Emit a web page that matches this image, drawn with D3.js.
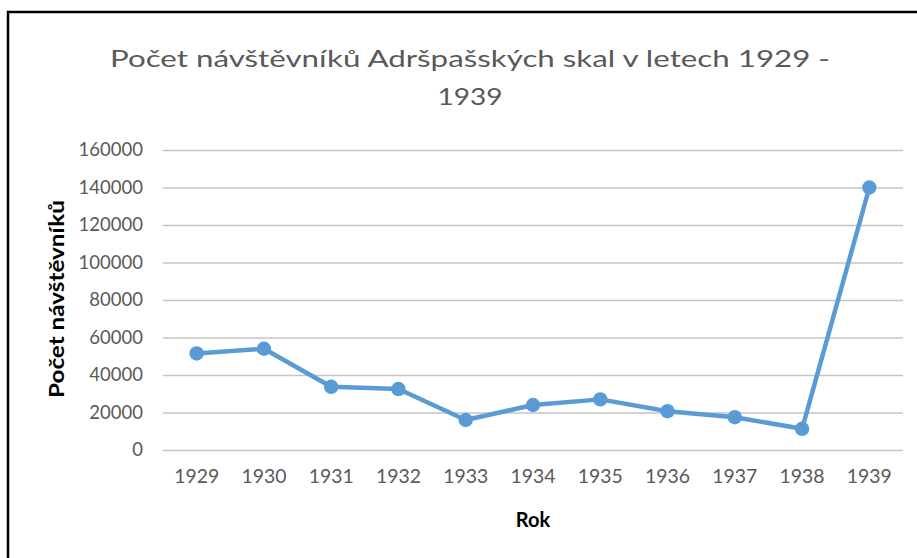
<html>
  <head>
    <meta charset="utf-8">
    <title>Počet návštěvníků Adršpašských skal</title>
    <script type="text/javascript" src="https://cdn.jsdelivr.net/npm/d3@7"></script>
    <style>
      body { margin: 0; background: white; }
      svg { display: block; }
    </style>
  </head>
  <body>
    <script type="text/javascript">
      // Data
      const years = ["1929", "1930", "1931", "1932", "1933", "1934", "1935", "1936", "1937", "1938", "1939"];
      const visitors = [51500, 54000, 33700, 32500, 16000, 24000, 27000, 20700, 17500, 11300, 140000];
      const yTicks = [0, 20000, 40000, 60000, 80000, 100000, 120000, 140000, 160000];

      const w = 917;
      const h = 558;
      const plotLeft = 163, plotRight = 903, plotTop = 150, plotBottom = 450;
      const font = "Lato, 'Open Sans', sans-serif";

      const svg = d3.select("body").append("svg")
        .attr("width", w)
        .attr("height", h);

      // Ramme (kun top og venstre synlig)
      svg.append("path")
        .attr("d", "M8,560 V12 H920")
        .attr("fill", "none")
        .attr("stroke", "black")
        .attr("stroke-width", 2.5);

      // Scales
      const x = d3.scaleBand().domain(years).range([plotLeft, plotRight]);
      const y = d3.scaleLinear().domain([0, 160000]).range([plotBottom, plotTop]);

      // Gridlines + y labels
      const yAxis = d3.axisLeft(y).tickValues(yTicks).tickSize(-(plotRight - plotLeft)).tickPadding(20).tickFormat(d3.format("d"));
      const gy = svg.append("g").attr("transform", "translate(" + plotLeft + ",0)").call(yAxis);
      gy.select(".domain").remove();
      gy.selectAll("line").attr("stroke", "#c4c4c4").attr("stroke-width", 1.3);
      gy.selectAll("text").attr("fill", "#595959").style("font-family", font).style("font-size", "18.5px");

      // x labels
      const xAxis = d3.axisBottom(x).tickSize(0).tickPadding(20);
      const gx = svg.append("g").attr("transform", "translate(0," + plotBottom + ")").call(xAxis);
      gx.select(".domain").remove();
      gx.selectAll("text").attr("fill", "#595959").style("font-family", font).style("font-size", "18.5px")
        .attr("textLength", 45).attr("lengthAdjust", "spacingAndGlyphs");

      // Linje
      const line = d3.line()
        .x((d, i) => x(years[i]) + x.bandwidth() / 2)
        .y(d => y(d));
      svg.append("path")
        .datum(visitors)
        .attr("d", line)
        .attr("fill", "none")
        .attr("stroke", "#5b9bd5")
        .attr("stroke-width", 4.5)
        .attr("stroke-linejoin", "round");

      svg.selectAll("circle")
        .data(visitors)
        .enter()
        .append("circle")
        .attr("cx", (d, i) => x(years[i]) + x.bandwidth() / 2)
        .attr("cy", d => y(d))
        .attr("r", 7.2)
        .attr("fill", "#5b9bd5");

      // Titel
      const title = svg.append("text")
        .attr("text-anchor", "middle")
        .attr("fill", "#595959")
        .style("font-family", font)
        .style("font-size", "23px");
      title.append("tspan").attr("x", 470).attr("y", 67)
        .attr("textLength", 720).attr("lengthAdjust", "spacingAndGlyphs")
        .text("Počet návštěvníků Adršpašských skal v letech 1929 -");
      title.append("tspan").attr("x", 470).attr("y", 105)
        .attr("textLength", 65).attr("lengthAdjust", "spacingAndGlyphs")
        .text("1939");

      // Akse-titler
      svg.append("text")
        .attr("x", 533).attr("y", 527)
        .attr("text-anchor", "middle")
        .style("font-family", font)
        .style("font-size", "20px")
        .style("font-weight", "bold")
        .text("Rok");

      svg.append("text")
        .attr("transform", "translate(64,299) rotate(-90)")
        .attr("text-anchor", "middle")
        .attr("textLength", 198).attr("lengthAdjust", "spacingAndGlyphs")
        .style("font-family", font)
        .style("font-size", "21px")
        .style("font-weight", "bold")
        .text("Počet návštěvníků");
    </script>
  </body>
</html>
